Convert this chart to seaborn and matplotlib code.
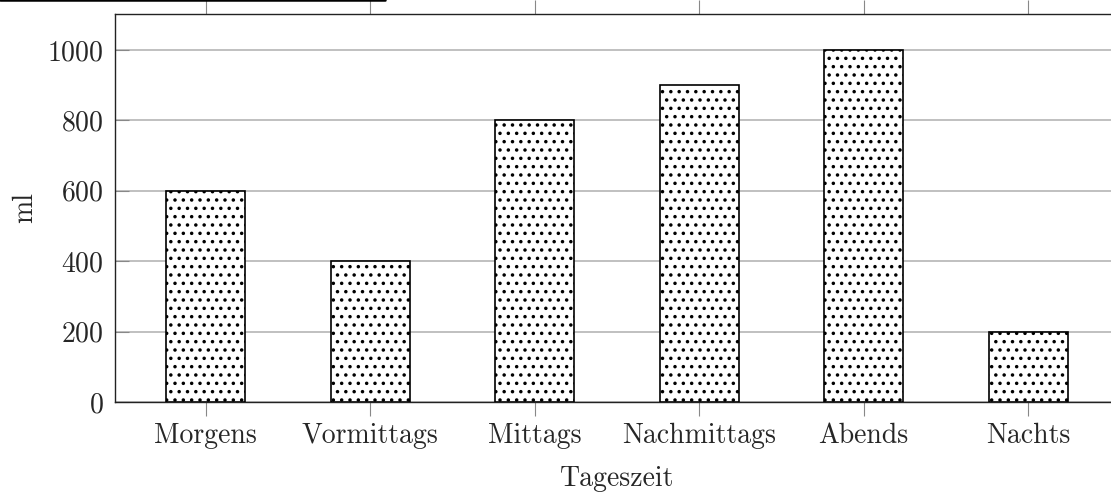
import matplotlib.pyplot as plt
import matplotlib.lines as mlines
import pandas as pd
import seaborn as sns

# Data
tageszeit = ["Morgens", "Vormittags", "Mittags", "Nachmittags", "Abends", "Nachts"]
menge_ml = [600, 400, 800, 900, 1000, 200]
y_ticks = [0, 200, 400, 600, 800, 1000]

df = pd.DataFrame({"Tageszeit": tageszeit, "ml": menge_ml})

sns.set_theme(style="white")
plt.rcParams["font.family"] = ["cmr10", "DejaVu Serif"]
plt.rcParams["axes.formatter.use_mathtext"] = True
plt.rcParams["hatch.linewidth"] = 1.3

fig = plt.figure(figsize=(11.11, 4.93), dpi=100)
ax = fig.add_axes([115 / 1111, 91 / 493, 1004 / 1111, 388 / 493])

sns.barplot(
    data=df,
    x="Tageszeit",
    y="ml",
    order=tageszeit,
    color="white",
    edgecolor="black",
    linewidth=1.2,
    width=0.48,
    hatch="..",
    saturation=1,
    ax=ax,
    zorder=3,
)

ax.set_xlim(-0.553, 5.553)
ax.set_ylim(0, 1102)
ax.set_yticks(y_ticks)
ax.yaxis.grid(True, color="#b5b5b5", linewidth=1.2, zorder=0)
ax.set_axisbelow(True)

for s in ax.spines.values():
    s.set_color("#222222")
    s.set_linewidth(1.0)

ax.tick_params(axis="x", which="both", direction="out", length=10, width=0.8,
               color="#888888", top=True, bottom=True, labelsize=20, pad=5)
ax.tick_params(axis="y", which="both", direction="in", length=10, width=0.8,
               color="#888888", left=True, right=False, labelsize=20, pad=8)

ax.set_xlabel("Tageszeit", fontsize=20, labelpad=12)
ax.set_ylabel("ml", fontsize=20, labelpad=7)

# stray rule at the top left edge
fig.add_artist(mlines.Line2D([0, 385 / 1111], [0.999, 0.999], color="black",
                             linewidth=1.8, transform=fig.transFigure))

fig.savefig("out.png", dpi=100)
